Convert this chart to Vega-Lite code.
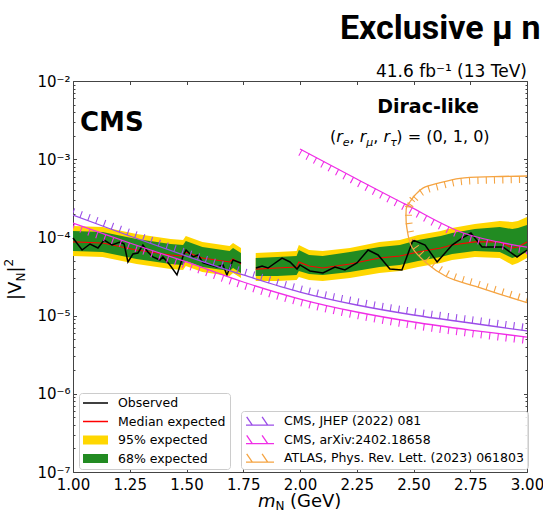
{
  "$schema": "https://vega.github.io/schema/vega-lite/v6.json",
  "width": 454,
  "height": 391,
  "autosize": {"type": "none"},
  "padding": {"left": 73, "top": 81, "right": 16, "bottom": 39},
  "background": "white",
  "datasets": {
    "band": [
      {"seg": "L", "m": 1.000, "med": 8.74e-5, "hi68": 1.207e-4, "lo68": 6.70e-5, "hi95": 1.399e-4, "lo95": 5.78e-5},
      {"seg": "L", "m": 1.130, "med": 8.48e-5, "hi68": 1.172e-4, "lo68": 6.51e-5, "hi95": 1.358e-4, "lo95": 5.62e-5},
      {"seg": "L", "m": 1.280, "med": 6.90e-5, "hi68": 9.54e-5, "lo68": 5.29e-5, "hi95": 1.105e-4, "lo95": 4.57e-5},
      {"seg": "L", "m": 1.430, "med": 5.96e-5, "hi68": 8.23e-5, "lo68": 4.57e-5, "hi95": 9.54e-5, "lo95": 3.94e-5},
      {"seg": "L", "m": 1.485, "med": 5.78e-5, "hi68": 7.99e-5, "lo68": 4.44e-5, "hi95": 9.26e-5, "lo95": 3.83e-5},
      {"seg": "L", "m": 1.497, "med": 6.51e-5, "hi68": 8.99e-5, "lo68": 4.99e-5, "hi95": 1.042e-4, "lo95": 4.31e-5},
      {"seg": "L", "m": 1.570, "med": 5.45e-5, "hi68": 7.54e-5, "lo68": 4.18e-5, "hi95": 8.74e-5, "lo95": 3.61e-5},
      {"seg": "L", "m": 1.690, "med": 4.85e-5, "hi68": 6.70e-5, "lo68": 3.72e-5, "hi95": 7.76e-5, "lo95": 3.21e-5},
      {"seg": "L", "m": 1.705, "med": 5.29e-5, "hi68": 7.32e-5, "lo68": 4.06e-5, "hi95": 8.48e-5, "lo95": 3.51e-5},
      {"seg": "L", "m": 1.740, "med": 4.57e-5, "hi68": 6.32e-5, "lo68": 3.51e-5, "hi95": 7.32e-5, "lo95": 3.03e-5},
      {"seg": "R", "m": 1.805, "med": 3.94e-5, "hi68": 5.45e-5, "lo68": 3.21e-5, "hi95": 6.32e-5, "lo95": 2.77e-5},
      {"seg": "R", "m": 1.900, "med": 4.06e-5, "hi68": 5.62e-5, "lo68": 3.21e-5, "hi95": 6.51e-5, "lo95": 2.77e-5},
      {"seg": "R", "m": 1.985, "med": 4.18e-5, "hi68": 5.78e-5, "lo68": 3.31e-5, "hi95": 6.70e-5, "lo95": 2.85e-5},
      {"seg": "R", "m": 1.995, "med": 4.85e-5, "hi68": 6.90e-5, "lo68": 3.72e-5, "hi95": 7.99e-5, "lo95": 3.12e-5},
      {"seg": "R", "m": 2.040, "med": 4.31e-5, "hi68": 5.96e-5, "lo68": 3.40e-5, "hi95": 6.90e-5, "lo95": 2.85e-5},
      {"seg": "R", "m": 2.100, "med": 4.06e-5, "hi68": 5.78e-5, "lo68": 3.31e-5, "hi95": 6.70e-5, "lo95": 2.77e-5},
      {"seg": "R", "m": 2.220, "med": 4.57e-5, "hi68": 6.51e-5, "lo68": 3.61e-5, "hi95": 7.32e-5, "lo95": 3.03e-5},
      {"seg": "R", "m": 2.350, "med": 5.45e-5, "hi68": 7.54e-5, "lo68": 4.18e-5, "hi95": 8.74e-5, "lo95": 3.51e-5},
      {"seg": "R", "m": 2.440, "med": 5.78e-5, "hi68": 7.99e-5, "lo68": 4.44e-5, "hi95": 9.26e-5, "lo95": 3.72e-5},
      {"seg": "R", "m": 2.520, "med": 6.51e-5, "hi68": 9.26e-5, "lo68": 4.99e-5, "hi95": 1.073e-4, "lo95": 4.18e-5},
      {"seg": "R", "m": 2.620, "med": 7.32e-5, "hi68": 1.042e-4, "lo68": 5.62e-5, "hi95": 1.207e-4, "lo95": 4.71e-5},
      {"seg": "R", "m": 2.670, "med": 7.99e-5, "hi68": 1.138e-4, "lo68": 6.13e-5, "hi95": 1.319e-4, "lo95": 5.14e-5},
      {"seg": "R", "m": 2.770, "med": 8.74e-5, "hi68": 1.281e-4, "lo68": 6.70e-5, "hi95": 1.484e-4, "lo95": 5.62e-5},
      {"seg": "R", "m": 2.880, "med": 8.74e-5, "hi68": 1.358e-4, "lo68": 6.51e-5, "hi95": 1.621e-4, "lo95": 5.45e-5},
      {"seg": "R", "m": 2.935, "med": 7.32e-5, "hi68": 1.281e-4, "lo68": 5.45e-5, "hi95": 1.574e-4, "lo95": 4.44e-5},
      {"seg": "R", "m": 2.960, "med": 7.54e-5, "hi68": 1.319e-4, "lo68": 5.78e-5, "hi95": 1.621e-4, "lo95": 4.71e-5},
      {"seg": "R", "m": 3.000, "med": 8.74e-5, "hi68": 1.441e-4, "lo68": 6.51e-5, "hi95": 1.824e-4, "lo95": 5.45e-5}
    ],
    "obs": [
      {"seg": "L", "m": 1.000, "v": 9.82e-5},
      {"seg": "L", "m": 1.040, "v": 6.90e-5},
      {"seg": "L", "m": 1.075, "v": 8.23e-5},
      {"seg": "L", "m": 1.110, "v": 7.32e-5},
      {"seg": "L", "m": 1.137, "v": 9.26e-5},
      {"seg": "L", "m": 1.172, "v": 7.99e-5},
      {"seg": "L", "m": 1.207, "v": 8.74e-5},
      {"seg": "L", "m": 1.225, "v": 8.23e-5},
      {"seg": "L", "m": 1.242, "v": 4.85e-5},
      {"seg": "L", "m": 1.264, "v": 6.13e-5},
      {"seg": "L", "m": 1.286, "v": 6.32e-5},
      {"seg": "L", "m": 1.308, "v": 7.99e-5},
      {"seg": "L", "m": 1.330, "v": 6.51e-5},
      {"seg": "L", "m": 1.352, "v": 5.62e-5},
      {"seg": "L", "m": 1.383, "v": 5.14e-5},
      {"seg": "L", "m": 1.396, "v": 5.62e-5},
      {"seg": "L", "m": 1.427, "v": 4.44e-5},
      {"seg": "L", "m": 1.458, "v": 3.31e-5},
      {"seg": "L", "m": 1.485, "v": 5.78e-5},
      {"seg": "L", "m": 1.498, "v": 6.90e-5},
      {"seg": "L", "m": 1.529, "v": 5.62e-5},
      {"seg": "L", "m": 1.551, "v": 5.96e-5},
      {"seg": "L", "m": 1.573, "v": 4.71e-5},
      {"seg": "L", "m": 1.604, "v": 4.44e-5},
      {"seg": "L", "m": 1.634, "v": 4.18e-5},
      {"seg": "L", "m": 1.661, "v": 4.44e-5},
      {"seg": "L", "m": 1.678, "v": 3.31e-5},
      {"seg": "L", "m": 1.705, "v": 5.14e-5},
      {"seg": "L", "m": 1.740, "v": 4.71e-5},
      {"seg": "R", "m": 1.806, "v": 4.06e-5},
      {"seg": "R", "m": 1.833, "v": 4.31e-5},
      {"seg": "R", "m": 1.859, "v": 4.06e-5},
      {"seg": "R", "m": 1.921, "v": 5.45e-5},
      {"seg": "R", "m": 1.956, "v": 4.85e-5},
      {"seg": "R", "m": 1.987, "v": 3.94e-5},
      {"seg": "R", "m": 2.000, "v": 4.44e-5},
      {"seg": "R", "m": 2.044, "v": 3.72e-5},
      {"seg": "R", "m": 2.101, "v": 3.51e-5},
      {"seg": "R", "m": 2.154, "v": 4.18e-5},
      {"seg": "R", "m": 2.198, "v": 3.83e-5},
      {"seg": "R", "m": 2.251, "v": 4.71e-5},
      {"seg": "R", "m": 2.300, "v": 6.90e-5},
      {"seg": "R", "m": 2.344, "v": 5.96e-5},
      {"seg": "R", "m": 2.396, "v": 3.94e-5},
      {"seg": "R", "m": 2.449, "v": 3.83e-5},
      {"seg": "R", "m": 2.498, "v": 9.26e-5},
      {"seg": "R", "m": 2.551, "v": 7.99e-5},
      {"seg": "R", "m": 2.604, "v": 4.85e-5},
      {"seg": "R", "m": 2.670, "v": 7.99e-5},
      {"seg": "R", "m": 2.714, "v": 9.82e-5},
      {"seg": "R", "m": 2.753, "v": 1.138e-4},
      {"seg": "R", "m": 2.802, "v": 7.54e-5},
      {"seg": "R", "m": 2.894, "v": 7.54e-5},
      {"seg": "R", "m": 2.956, "v": 5.62e-5},
      {"seg": "R", "m": 3.000, "v": 6.90e-5}
    ],
    "limits": [
      {"curve": "jhep", "ref": "CMS, JHEP (2022) 081", "i": 0, "m": 1.00, "v": 1.934e-4},
      {"curve": "jhep", "ref": "CMS, JHEP (2022) 081", "i": 1, "m": 1.25, "v": 1.042e-4},
      {"curve": "jhep", "ref": "CMS, JHEP (2022) 081", "i": 2, "m": 1.50, "v": 5.78e-5},
      {"curve": "jhep", "ref": "CMS, JHEP (2022) 081", "i": 3, "m": 1.75, "v": 3.31e-5},
      {"curve": "jhep", "ref": "CMS, JHEP (2022) 081", "i": 4, "m": 2.00, "v": 2.00e-5},
      {"curve": "jhep", "ref": "CMS, JHEP (2022) 081", "i": 5, "m": 2.25, "v": 1.366e-5},
      {"curve": "jhep", "ref": "CMS, JHEP (2022) 081", "i": 6, "m": 2.50, "v": 1.018e-5},
      {"curve": "jhep", "ref": "CMS, JHEP (2022) 081", "i": 7, "m": 2.75, "v": 8.04e-6},
      {"curve": "jhep", "ref": "CMS, JHEP (2022) 081", "i": 8, "m": 3.00, "v": 6.36e-6},
      {"curve": "arx_lo", "ref": "CMS, arXiv:2402.18658", "i": 0, "m": 1.00, "v": 1.528e-4},
      {"curve": "arx_lo", "ref": "CMS, arXiv:2402.18658", "i": 1, "m": 1.25, "v": 8.48e-5},
      {"curve": "arx_lo", "ref": "CMS, arXiv:2402.18658", "i": 2, "m": 1.50, "v": 4.85e-5},
      {"curve": "arx_lo", "ref": "CMS, arXiv:2402.18658", "i": 3, "m": 1.75, "v": 2.69e-5},
      {"curve": "arx_lo", "ref": "CMS, arXiv:2402.18658", "i": 4, "m": 2.00, "v": 1.63e-5},
      {"curve": "arx_lo", "ref": "CMS, arXiv:2402.18658", "i": 5, "m": 2.25, "v": 1.112e-5},
      {"curve": "arx_lo", "ref": "CMS, arXiv:2402.18658", "i": 6, "m": 2.50, "v": 8.28e-6},
      {"curve": "arx_lo", "ref": "CMS, arXiv:2402.18658", "i": 7, "m": 2.75, "v": 6.54e-6},
      {"curve": "arx_lo", "ref": "CMS, arXiv:2402.18658", "i": 8, "m": 3.00, "v": 5.32e-6},
      {"curve": "arx_hi", "ref": "CMS, arXiv:2402.18658", "i": 0, "m": 2.00, "v": 1.35e-3},
      {"curve": "arx_hi", "ref": "CMS, arXiv:2402.18658", "i": 1, "m": 2.25, "v": 5.58e-4},
      {"curve": "arx_hi", "ref": "CMS, arXiv:2402.18658", "i": 2, "m": 2.47, "v": 2.60e-4},
      {"curve": "arx_hi", "ref": "CMS, arXiv:2402.18658", "i": 3, "m": 2.72, "v": 1.138e-4},
      {"curve": "arx_hi", "ref": "CMS, arXiv:2402.18658", "i": 4, "m": 3.00, "v": 7.5e-5},
      {"curve": "atlas_top", "ref": "ATLAS, Phys. Rev. Lett. (2023) 061803", "i": 0, "m": 2.485, "v": 2.86e-4},
      {"curve": "atlas_top", "ref": "ATLAS, Phys. Rev. Lett. (2023) 061803", "i": 1, "m": 2.507, "v": 3.48e-4},
      {"curve": "atlas_top", "ref": "ATLAS, Phys. Rev. Lett. (2023) 061803", "i": 2, "m": 2.543, "v": 4.29e-4},
      {"curve": "atlas_top", "ref": "ATLAS, Phys. Rev. Lett. (2023) 061803", "i": 3, "m": 2.617, "v": 5.01e-4},
      {"curve": "atlas_top", "ref": "ATLAS, Phys. Rev. Lett. (2023) 061803", "i": 4, "m": 2.705, "v": 5.70e-4},
      {"curve": "atlas_top", "ref": "ATLAS, Phys. Rev. Lett. (2023) 061803", "i": 5, "m": 2.852, "v": 5.98e-4},
      {"curve": "atlas_top", "ref": "ATLAS, Phys. Rev. Lett. (2023) 061803", "i": 6, "m": 3.000, "v": 6.10e-4},
      {"curve": "atlas_bot", "ref": "ATLAS, Phys. Rev. Lett. (2023) 061803", "i": 0, "m": 2.485, "v": 2.86e-4},
      {"curve": "atlas_bot", "ref": "ATLAS, Phys. Rev. Lett. (2023) 061803", "i": 1, "m": 2.470, "v": 2.47e-4},
      {"curve": "atlas_bot", "ref": "ATLAS, Phys. Rev. Lett. (2023) 061803", "i": 2, "m": 2.467, "v": 1.84e-4},
      {"curve": "atlas_bot", "ref": "ATLAS, Phys. Rev. Lett. (2023) 061803", "i": 3, "m": 2.470, "v": 1.37e-4},
      {"curve": "atlas_bot", "ref": "ATLAS, Phys. Rev. Lett. (2023) 061803", "i": 4, "m": 2.492, "v": 7.60e-5},
      {"curve": "atlas_bot", "ref": "ATLAS, Phys. Rev. Lett. (2023) 061803", "i": 5, "m": 2.558, "v": 4.67e-5},
      {"curve": "atlas_bot", "ref": "ATLAS, Phys. Rev. Lett. (2023) 061803", "i": 6, "m": 2.646, "v": 3.14e-5},
      {"curve": "atlas_bot", "ref": "ATLAS, Phys. Rev. Lett. (2023) 061803", "i": 7, "m": 2.778, "v": 2.34e-5},
      {"curve": "atlas_bot", "ref": "ATLAS, Phys. Rev. Lett. (2023) 061803", "i": 8, "m": 3.000, "v": 1.46e-5}
    ]
  },
  "resolve": {"axis": {"x": "independent", "y": "independent"}},
  "layer": [
    {
      "data": {"name": "band"},
      "mark": {"type": "area", "interpolate": "linear"},
      "encoding": {
        "x": {"field": "m", "type": "quantitative",
              "scale": {"domain": [1, 3], "nice": false, "zero": false},
              "axis": {"orient": "bottom", "values": [1, 1.25, 1.5, 1.75, 2, 2.25, 2.5, 2.75, 3], "format": ".2f", "title": null, "tickSize": -3.5, "labelPadding": 9, "labelFlush": false, "labelOverlap": false}},
        "y": {"field": "hi95", "type": "quantitative",
              "scale": {"type": "log", "domain": [1e-7, 1e-2], "nice": false},
              "axis": {"orient": "left", "values": [1e-7, 1e-6, 1e-5, 1e-4, 1e-3, 1e-2], "title": null, "tickSize": -3.5, "labelPadding": 6.5, "labelFlush": false, "labelOverlap": false,
                       "labelExpr": "datum.value < 3e-7 ? '10⁻⁷' : datum.value < 3e-6 ? '10⁻⁶' : datum.value < 3e-5 ? '10⁻⁵' : datum.value < 3e-4 ? '10⁻⁴' : datum.value < 3e-3 ? '10⁻³' : '10⁻²'"}},
        "y2": {"field": "lo95"},
        "detail": {"field": "seg"},
        "fill": {"datum": "95% expected", "type": "nominal",
                 "scale": {"domain": ["Observed", "Median expected", "95% expected", "68% expected"], "range": ["#000000", "#ff0000", "#ffd700", "#228b22"]},
                 "legend": {"orient": "none", "legendX": 6, "legendY": 312, "title": null,
                            "fillColor": "rgba(255,255,255,0.85)", "strokeColor": "#cccccc", "cornerRadius": 3, "padding": 4,
                            "labelFont": "DejaVu Sans", "labelFontSize": 12.5, "labelColor": "black", "labelOffset": 10, "labelLimit": 400,
                            "symbolSize": 625, "clipHeight": 12, "rowPadding": 5.5, "symbolStrokeWidth": 0,
                            "encode": {"symbols": {"update": {"shape": {"signal": "datum.value == 'Observed' || datum.value == 'Median expected' ? 'M-1,-0.06H1V0.06H-1Z' : 'M-1,-0.36H1V0.36H-1Z'"}, "strokeWidth": {"value": 0}}}}}}
      }
    },
    {
      "data": {"name": "band"},
      "mark": {"type": "area", "interpolate": "linear"},
      "encoding": {
        "x": {"field": "m", "type": "quantitative",
              "axis": {"orient": "top", "values": [1, 1.25, 1.5, 1.75, 2, 2.25, 2.5, 2.75, 3], "labels": false, "title": null, "tickSize": -3.5}},
        "y": {"field": "hi68", "type": "quantitative",
              "axis": {"orient": "right", "values": [1e-7, 1e-6, 1e-5, 1e-4, 1e-3, 1e-2], "labels": false, "title": null, "tickSize": -3.5}},
        "y2": {"field": "lo68"},
        "detail": {"field": "seg"},
        "fill": {"datum": "68% expected", "type": "nominal",
                 "scale": {"domain": ["Observed", "Median expected", "95% expected", "68% expected"], "range": ["#000000", "#ff0000", "#ffd700", "#228b22"]},
                 "legend": null}
      }
    },
    {
      "data": {"name": "band"},
      "mark": {"type": "line", "color": "#ff0000", "strokeWidth": 1.2},
      "encoding": {
        "x": {"field": "m", "type": "quantitative", "axis": null},
        "y": {"field": "med", "type": "quantitative",
              "axis": {"orient": "left", "values": [2e-7, 3e-7, 4e-7, 5e-7, 6e-7, 7e-7, 8e-7, 9e-7, 2e-6, 3e-6, 4e-6, 5e-6, 6e-6, 7e-6, 8e-6, 9e-6, 2e-5, 3e-5, 4e-5, 5e-5, 6e-5, 7e-5, 8e-5, 9e-5, 2e-4, 3e-4, 4e-4, 5e-4, 6e-4, 7e-4, 8e-4, 9e-4, 2e-3, 3e-3, 4e-3, 5e-3, 6e-3, 7e-3, 8e-3, 9e-3], "labels": false, "title": null, "tickSize": -2, "domain": false}},
        "detail": {"field": "seg"}
      }
    },
    {
      "data": {"name": "obs"},
      "mark": {"type": "line", "color": "#000000", "strokeWidth": 1.5},
      "encoding": {
        "x": {"field": "m", "type": "quantitative", "axis": null},
        "y": {"field": "v", "type": "quantitative",
              "axis": {"orient": "right", "values": [2e-7, 3e-7, 4e-7, 5e-7, 6e-7, 7e-7, 8e-7, 9e-7, 2e-6, 3e-6, 4e-6, 5e-6, 6e-6, 7e-6, 8e-6, 9e-6, 2e-5, 3e-5, 4e-5, 5e-5, 6e-5, 7e-5, 8e-5, 9e-5, 2e-4, 3e-4, 4e-4, 5e-4, 6e-4, 7e-4, 8e-4, 9e-4, 2e-3, 3e-3, 4e-3, 5e-3, 6e-3, 7e-3, 8e-3, 9e-3], "labels": false, "title": null, "tickSize": -2, "domain": false}},
        "detail": {"field": "seg"}
      }
    },
    {
      "data": {"name": "limits"},
      "mark": {"type": "line", "interpolate": "catmull-rom", "strokeWidth": 1.3, "clip": true},
      "encoding": {
        "x": {"field": "m", "type": "quantitative", "axis": null},
        "y": {"field": "v", "type": "quantitative", "axis": null},
        "detail": {"field": "curve"},
        "order": {"field": "i"},
        "stroke": {"field": "ref", "type": "nominal",
                   "scale": {"domain": ["CMS, JHEP (2022) 081", "CMS, arXiv:2402.18658", "ATLAS, Phys. Rev. Lett. (2023) 061803"], "range": ["#9b4de8", "#f02ee6", "#f5a442"]},
                   "legend": {"orient": "none", "legendX": 168, "legendY": 330, "title": null,
                              "fillColor": "rgba(255,255,255,0.85)", "strokeColor": "#cccccc", "cornerRadius": 3, "padding": 4,
                              "labelFont": "DejaVu Sans", "labelFontSize": 12.5, "labelColor": "black", "labelOffset": 9, "labelLimit": 400,
                              "symbolSize": 784, "clipHeight": 12, "rowPadding": 5.5, "symbolStrokeWidth": 1.3, "symbolFillColor": "transparent",
                              "symbolType": "M-1,0.3H1M-0.95,-0.3L-0.55,0.3M0.15,-0.3L0.55,0.3"}}
      }
    },
    {
      "data": {"name": "limits"},
      "transform": [{"filter": "datum.curve == 'jhep'"}],
      "mark": {"type": "line", "interpolate": "catmull-rom", "strokeWidth": 7, "strokeDash": [1.1, 7.2], "strokeCap": "butt", "yOffset": -3.5, "clip": true},
      "encoding": {
        "x": {"field": "m", "type": "quantitative", "axis": null},
        "y": {"field": "v", "type": "quantitative", "axis": null},
        "order": {"field": "i"},
        "stroke": {"field": "ref", "type": "nominal",
                   "scale": {"domain": ["CMS, JHEP (2022) 081", "CMS, arXiv:2402.18658", "ATLAS, Phys. Rev. Lett. (2023) 061803"], "range": ["#9b4de8", "#f02ee6", "#f5a442"]},
                   "legend": null}
      }
    },
    {
      "data": {"name": "limits"},
      "transform": [{"filter": "datum.curve == 'arx_lo' || datum.curve == 'arx_hi' || datum.curve == 'atlas_top'"}],
      "mark": {"type": "line", "interpolate": "catmull-rom", "strokeWidth": 7, "strokeDash": [1.1, 7.2], "strokeCap": "butt", "yOffset": 3.5, "clip": true},
      "encoding": {
        "x": {"field": "m", "type": "quantitative", "axis": null},
        "y": {"field": "v", "type": "quantitative", "axis": null},
        "detail": {"field": "curve"},
        "order": {"field": "i"},
        "stroke": {"field": "ref", "type": "nominal",
                   "scale": {"domain": ["CMS, JHEP (2022) 081", "CMS, arXiv:2402.18658", "ATLAS, Phys. Rev. Lett. (2023) 061803"], "range": ["#9b4de8", "#f02ee6", "#f5a442"]},
                   "legend": null}
      }
    },
    {
      "data": {"name": "limits"},
      "transform": [{"filter": "datum.curve == 'atlas_bot'"}],
      "mark": {"type": "line", "interpolate": "catmull-rom", "strokeWidth": 7, "strokeDash": [1.1, 7.2], "strokeCap": "butt", "xOffset": 2.5, "yOffset": -2.5, "clip": true},
      "encoding": {
        "x": {"field": "m", "type": "quantitative", "axis": null},
        "y": {"field": "v", "type": "quantitative", "axis": null},
        "order": {"field": "i"},
        "stroke": {"field": "ref", "type": "nominal",
                   "scale": {"domain": ["CMS, JHEP (2022) 081", "CMS, arXiv:2402.18658", "ATLAS, Phys. Rev. Lett. (2023) 061803"], "range": ["#9b4de8", "#f02ee6", "#f5a442"]},
                   "legend": null}
      }
    },
    {
      "data": {"values": [{}]},
      "mark": {"type": "text", "text": "Exclusive μ n", "font": "Roboto", "fontWeight": "bold", "fontSize": 34, "align": "left", "baseline": "alphabetic", "dy": -42},
      "encoding": {"x": {"datum": 2.176, "type": "quantitative", "axis": null}, "y": {"datum": 0.01, "type": "quantitative", "axis": null}}
    },
    {
      "data": {"values": [{}]},
      "mark": {"type": "text", "text": "41.6 fb⁻¹ (13 TeV)", "font": "DejaVu Sans", "fontSize": 17, "align": "right", "baseline": "alphabetic", "dy": -4},
      "encoding": {"x": {"datum": 3.0, "type": "quantitative", "axis": null}, "y": {"datum": 0.01, "type": "quantitative", "axis": null}}
    },
    {
      "data": {"values": [{}]},
      "mark": {"type": "text", "text": "CMS", "font": "DejaVu Sans", "fontWeight": "bold", "fontSize": 26, "align": "left", "baseline": "alphabetic"},
      "encoding": {"x": {"datum": 1.031, "type": "quantitative", "axis": null}, "y": {"datum": 0.0023, "type": "quantitative", "axis": null}}
    },
    {
      "data": {"values": [{}]},
      "mark": {"type": "text", "text": "Dirac-like", "font": "DejaVu Sans", "fontWeight": "bold", "fontSize": 19, "align": "center", "baseline": "alphabetic"},
      "encoding": {"x": {"datum": 2.564, "type": "quantitative", "axis": null}, "y": {"datum": 0.0039, "type": "quantitative", "axis": null}}
    },
    {
      "data": {"values": [{}]},
      "mark": {"type": "text", "text": "(", "font": "DejaVu Sans", "fontSize": 16, "align": "left", "baseline": "alphabetic"},
      "encoding": {"x": {"datum": 2.132, "type": "quantitative", "axis": null}, "y": {"datum": 0.00166, "type": "quantitative", "axis": null}}
    },
    {
      "data": {"values": [{}]},
      "mark": {"type": "text", "text": "r", "font": "DejaVu Sans", "fontStyle": "italic", "fontSize": 16, "align": "left", "baseline": "alphabetic", "dx": 6.2},
      "encoding": {"x": {"datum": 2.132, "type": "quantitative", "axis": null}, "y": {"datum": 0.00166, "type": "quantitative", "axis": null}}
    },
    {
      "data": {"values": [{}]},
      "mark": {"type": "text", "text": "e", "font": "DejaVu Sans", "fontStyle": "italic", "fontSize": 11, "align": "left", "baseline": "alphabetic", "dx": 12.8, "dy": 4},
      "encoding": {"x": {"datum": 2.132, "type": "quantitative", "axis": null}, "y": {"datum": 0.00166, "type": "quantitative", "axis": null}}
    },
    {
      "data": {"values": [{}]},
      "mark": {"type": "text", "text": ",", "font": "DejaVu Sans", "fontSize": 16, "align": "left", "baseline": "alphabetic", "dx": 19.6},
      "encoding": {"x": {"datum": 2.132, "type": "quantitative", "axis": null}, "y": {"datum": 0.00166, "type": "quantitative", "axis": null}}
    },
    {
      "data": {"values": [{}]},
      "mark": {"type": "text", "text": "r", "font": "DejaVu Sans", "fontStyle": "italic", "fontSize": 16, "align": "left", "baseline": "alphabetic", "dx": 29.8},
      "encoding": {"x": {"datum": 2.132, "type": "quantitative", "axis": null}, "y": {"datum": 0.00166, "type": "quantitative", "axis": null}}
    },
    {
      "data": {"values": [{}]},
      "mark": {"type": "text", "text": "μ", "font": "DejaVu Sans", "fontStyle": "italic", "fontSize": 11, "align": "left", "baseline": "alphabetic", "dx": 36.4, "dy": 4},
      "encoding": {"x": {"datum": 2.132, "type": "quantitative", "axis": null}, "y": {"datum": 0.00166, "type": "quantitative", "axis": null}}
    },
    {
      "data": {"values": [{}]},
      "mark": {"type": "text", "text": ",", "font": "DejaVu Sans", "fontSize": 16, "align": "left", "baseline": "alphabetic", "dx": 43.4},
      "encoding": {"x": {"datum": 2.132, "type": "quantitative", "axis": null}, "y": {"datum": 0.00166, "type": "quantitative", "axis": null}}
    },
    {
      "data": {"values": [{}]},
      "mark": {"type": "text", "text": "r", "font": "DejaVu Sans", "fontStyle": "italic", "fontSize": 16, "align": "left", "baseline": "alphabetic", "dx": 53.6},
      "encoding": {"x": {"datum": 2.132, "type": "quantitative", "axis": null}, "y": {"datum": 0.00166, "type": "quantitative", "axis": null}}
    },
    {
      "data": {"values": [{}]},
      "mark": {"type": "text", "text": "τ", "font": "DejaVu Sans", "fontStyle": "italic", "fontSize": 11, "align": "left", "baseline": "alphabetic", "dx": 60.2, "dy": 4},
      "encoding": {"x": {"datum": 2.132, "type": "quantitative", "axis": null}, "y": {"datum": 0.00166, "type": "quantitative", "axis": null}}
    },
    {
      "data": {"values": [{}]},
      "mark": {"type": "text", "text": ") = (0, 1, 0)", "font": "DejaVu Sans", "fontSize": 16, "align": "left", "baseline": "alphabetic", "dx": 66.4},
      "encoding": {"x": {"datum": 2.132, "type": "quantitative", "axis": null}, "y": {"datum": 0.00166, "type": "quantitative", "axis": null}}
    },
    {
      "data": {"values": [{}]},
      "mark": {"type": "text", "text": "m", "font": "DejaVu Sans", "fontStyle": "italic", "fontSize": 18, "align": "left", "baseline": "alphabetic", "dy": 35},
      "encoding": {"x": {"datum": 1.815, "type": "quantitative", "axis": null}, "y": {"datum": 1e-7, "type": "quantitative", "axis": null}}
    },
    {
      "data": {"values": [{}]},
      "mark": {"type": "text", "text": "N", "font": "DejaVu Sans", "fontSize": 12, "align": "left", "baseline": "alphabetic", "dx": 17.5, "dy": 37.5},
      "encoding": {"x": {"datum": 1.815, "type": "quantitative", "axis": null}, "y": {"datum": 1e-7, "type": "quantitative", "axis": null}}
    },
    {
      "data": {"values": [{}]},
      "mark": {"type": "text", "text": "(GeV)", "font": "DejaVu Sans", "fontSize": 18, "align": "left", "baseline": "alphabetic", "dx": 32, "dy": 35},
      "encoding": {"x": {"datum": 1.815, "type": "quantitative", "axis": null}, "y": {"datum": 1e-7, "type": "quantitative", "axis": null}}
    },
    {
      "data": {"values": [{}]},
      "mark": {"type": "text", "text": "|V", "font": "DejaVu Sans", "fontSize": 18, "angle": 270, "align": "left", "baseline": "alphabetic", "dy": -52},
      "encoding": {"x": {"datum": 1.0, "type": "quantitative", "axis": null}, "y": {"datum": 1.583e-5, "type": "quantitative", "axis": null}}
    },
    {
      "data": {"values": [{}]},
      "mark": {"type": "text", "text": "N", "font": "DejaVu Sans", "fontSize": 12, "angle": 270, "align": "left", "baseline": "alphabetic", "dx": 18.4, "dy": -48},
      "encoding": {"x": {"datum": 1.0, "type": "quantitative", "axis": null}, "y": {"datum": 1.583e-5, "type": "quantitative", "axis": null}}
    },
    {
      "data": {"values": [{}]},
      "mark": {"type": "text", "text": "|", "font": "DejaVu Sans", "fontSize": 18, "angle": 270, "align": "left", "baseline": "alphabetic", "dx": 27.4, "dy": -52},
      "encoding": {"x": {"datum": 1.0, "type": "quantitative", "axis": null}, "y": {"datum": 1.583e-5, "type": "quantitative", "axis": null}}
    },
    {
      "data": {"values": [{}]},
      "mark": {"type": "text", "text": "2", "font": "DejaVu Sans", "fontSize": 12, "angle": 270, "align": "left", "baseline": "alphabetic", "dx": 33.5, "dy": -60},
      "encoding": {"x": {"datum": 1.0, "type": "quantitative", "axis": null}, "y": {"datum": 1.583e-5, "type": "quantitative", "axis": null}}
    }
  ],
  "config": {
    "view": {"stroke": null},
    "axis": {"grid": false, "domainColor": "#444444", "domainWidth": 1, "tickColor": "#444444", "tickWidth": 1,
             "labelFont": "DejaVu Sans", "labelFontSize": 15, "labelColor": "#000000"},
    "text": {"color": "#000000"}
  }
}
